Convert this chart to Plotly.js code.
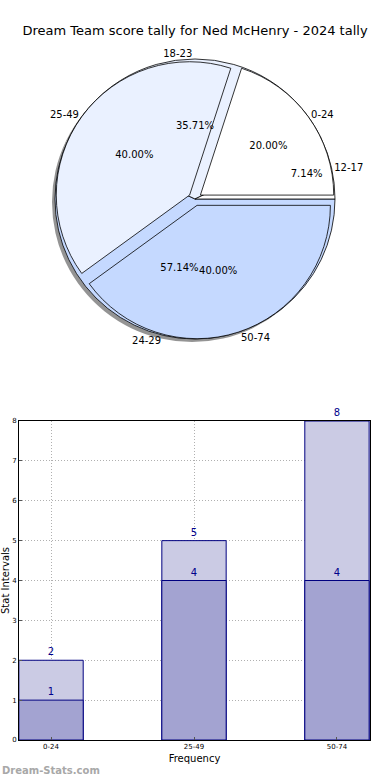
<!DOCTYPE html>
<html>
<head>
<meta charset="utf-8">
<script src="https://cdn.plot.ly/plotly-3.0.1.min.js"></script>
<style>html,body{margin:0;padding:0;background:#fff;}#chart{width:390px;height:780px;}</style>
</head>
<body>
<div id="chart"></div>
<script>
// ---- data ----
const scoreLabels = ['0-24', '25-49', '50-74'];
const scoreValues = [20, 40, 40];
const ageLabels = ['12-17', '18-23', '24-29'];
const ageValues = [1, 5, 8];
const barCategories = ['0-24', '25-49', '50-74'];
const barTotals = [2, 5, 8];
const barParts = [1, 4, 4];
const sliceColors = ['#ffffff', '#eaf1ff', '#c5d9ff'];

// ---- layout helpers (pixels -> paper) ----
const W = 390, H = 780;
const px = v => v / W;
const py = v => 1 - v / H;
const cx = 195, cy = 199, R = 140;
const pieDomain = {x: [px(cx - R), px(cx + R)], y: [py(cy + R), py(cy - R)]};
const shadowDomain = {x: [px(cx - R - 3), px(cx + R - 3)], y: [py(cy + R + 3), py(cy - R + 3)]};
const pullAmt = 0.05;
const font = 'DejaVu Sans, Verdana, sans-serif';
const rev = a => a.slice().reverse();
const clear = ['rgba(0,0,0,0)', 'rgba(0,0,0,0)', 'rgba(0,0,0,0)'];

// slices run counter-clockwise from 3 o'clock: feed them reversed, clockwise from 3 o'clock
const pieBase = {
  type: 'pie', sort: false, direction: 'clockwise', rotation: 90,
  hoverinfo: 'skip', showlegend: false
};
const age = {labels: rev(ageLabels), values: rev(ageValues)};
const score = {labels: rev(scoreLabels), values: rev(scoreValues)};
const colorsRev = rev(sliceColors);

const traces = [
  Object.assign({}, pieBase, age, {
    domain: shadowDomain,
    marker: {colors: ['rgba(60,60,60,0.55)', 'rgba(60,60,60,0.55)', 'rgba(60,60,60,0.55)'], line: {width: 0}},
    textinfo: 'none'
  }),
  Object.assign({}, pieBase, age, {
    domain: pieDomain,
    marker: {colors: colorsRev, line: {color: '#000', width: 0.8}},
    textinfo: 'none'
  }),
  Object.assign({}, pieBase, score, {
    domain: pieDomain, pull: pullAmt,
    marker: {colors: colorsRev, line: {color: '#000', width: 0.8}},
    textinfo: 'none'
  }),
  Object.assign({}, pieBase, age, {
    domain: pieDomain,
    marker: {colors: clear, line: {width: 0}},
    texttemplate: '%{percent:.2%}', textposition: 'inside', insidetextorientation: 'horizontal',
    textfont: {family: font, size: 10, color: '#000'}
  }),
  Object.assign({}, pieBase, score, {
    domain: pieDomain, pull: pullAmt,
    marker: {colors: clear, line: {width: 0}},
    texttemplate: '%{percent:.2%}', textposition: 'inside', insidetextorientation: 'horizontal',
    textfont: {family: font, size: 10, color: '#000'}
  }),
  Object.assign({}, pieBase, age, {
    domain: pieDomain,
    marker: {colors: clear, line: {width: 0}},
    texttemplate: '%{label}', textposition: 'outside',
    textfont: {family: font, size: 10, color: '#000'}
  }),
  Object.assign({}, pieBase, score, {
    domain: pieDomain, pull: pullAmt,
    marker: {colors: clear, line: {width: 0}},
    texttemplate: '%{label}', textposition: 'outside',
    textfont: {family: font, size: 10, color: '#000'}
  }),
  {
    type: 'bar', x: barCategories, y: barTotals, width: 0.45,
    marker: {color: '#cbcbe4', line: {color: '#000080', width: 1}},
    text: barTotals.map(String), textposition: 'outside', cliponaxis: false,
    textfont: {family: font, size: 10, color: '#00008b'},
    hoverinfo: 'skip', showlegend: false
  },
  {
    type: 'bar', x: barCategories, y: barParts, width: 0.45,
    marker: {color: '#a3a3d1', line: {color: '#000080', width: 1}},
    text: barParts.map(String), textposition: 'outside', cliponaxis: false,
    textfont: {family: font, size: 10, color: '#00008b'},
    hoverinfo: 'skip', showlegend: false
  }
];

const layout = {
  width: W, height: H,
  margin: {l: 0, r: 0, t: 0, b: 0},
  paper_bgcolor: '#fff', plot_bgcolor: '#fff',
  font: {family: font, color: '#000'},
  barmode: 'overlay',
  title: {text: 'Dream Team score tally for Ned McHenry - 2024 tally', x: 0.5, xanchor: 'center', y: py(30), yanchor: 'middle', font: {family: font, size: 13, color: '#000'}},
  xaxis: {
    domain: [px(19), px(370)], anchor: 'y', type: 'category',
    range: [-0.224, 2.231],
    showgrid: true, gridcolor: '#b0b0b0', griddash: '1px,2px', gridwidth: 1,
    showline: true, linecolor: '#000', linewidth: 1, mirror: true,
    ticks: 'inside', ticklen: 3, tickcolor: '#555',
    tickfont: {family: font, size: 7, color: '#000'},
    title: {text: 'Frequency', font: {family: font, size: 10, color: '#000'}, standoff: 4},
    automargin: false, zeroline: false
  },
  yaxis: {
    domain: [py(740), py(421)], anchor: 'x',
    range: [0, 8], dtick: 1, tick0: 0,
    showgrid: true, gridcolor: '#b0b0b0', griddash: '1px,2px', gridwidth: 1,
    showline: true, linecolor: '#000', linewidth: 1, mirror: true,
    ticks: 'inside', ticklen: 3, tickcolor: '#555',
    tickfont: {family: font, size: 7, color: '#000'},
    title: {text: 'Stat Intervals', font: {family: font, size: 10, color: '#000'}, standoff: 2},
    automargin: false, zeroline: false
  },
  annotations: [
    {text: '<b>Dream-Stats.com</b>', xref: 'paper', yref: 'paper', x: 0, y: py(770), xanchor: 'left', yanchor: 'middle', showarrow: false,
     font: {family: font, size: 10, color: '#a8a8a8'}}
  ]
};

Plotly.newPlot('chart', traces, layout, {staticPlot: true, displayModeBar: false});
</script>
</body>
</html>
